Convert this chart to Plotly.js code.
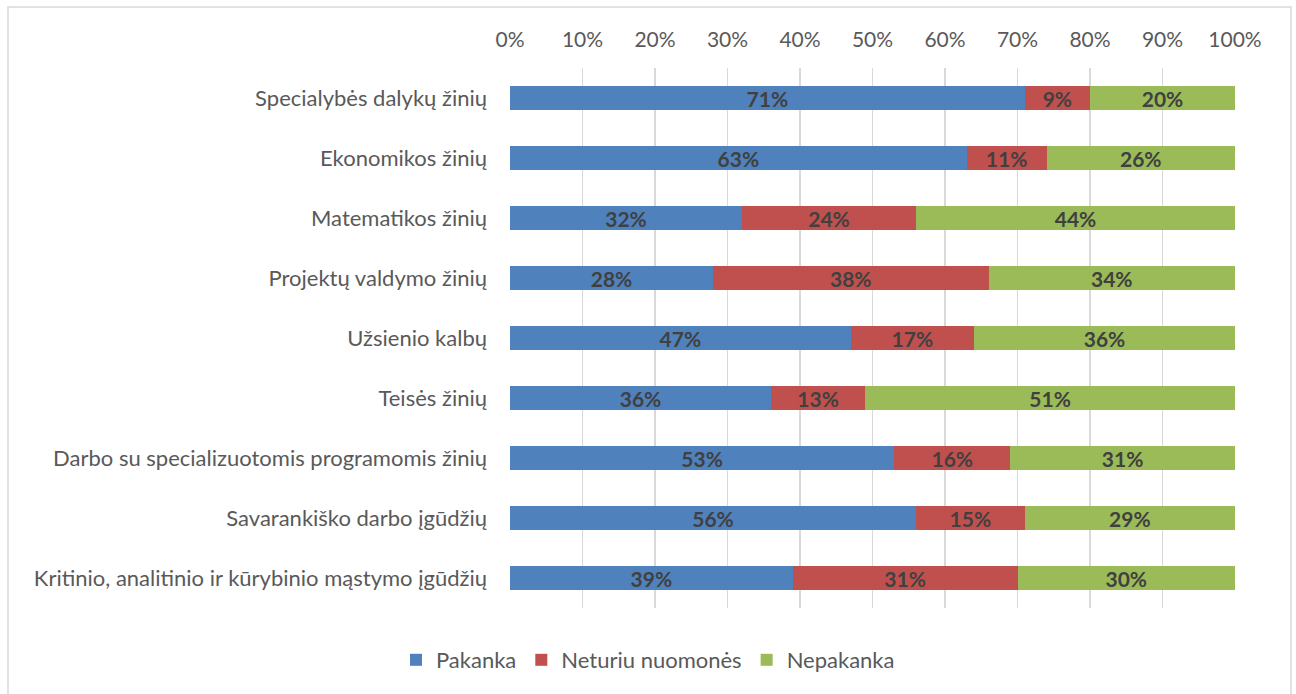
<!DOCTYPE html>
<html>
<head>
<meta charset="utf-8">
<script src="https://cdn.plot.ly/plotly-3.0.1.min.js"></script>
<style>html,body{margin:0;padding:0;background:#fff;}#chart{width:1296px;height:694px;}</style>
</head>
<body>
<div id="chart"></div>
<script>
const categories = [
  "Specialybės dalykų žinių",
  "Ekonomikos žinių",
  "Matematikos žinių",
  "Projektų valdymo žinių",
  "Užsienio kalbų",
  "Teisės žinių",
  "Darbo su specializuotomis programomis žinių",
  "Savarankiško darbo įgūdžių",
  "Kritinio, analitinio ir kūrybinio mąstymo įgūdžių"
];
const pakanka = [71, 63, 32, 28, 47, 36, 53, 56, 39];
const neturiu = [9, 11, 24, 38, 17, 13, 16, 15, 31];
const nepakanka = [20, 26, 44, 34, 36, 51, 31, 29, 30];
const seriesNames = ["Pakanka", "Neturiu nuomonės", "Nepakanka"];
const tickVals = [0, 10, 20, 30, 40, 50, 60, 70, 80, 90, 100];
const tickText = tickVals.map(v => v + "%");

const colors = ["#4F81BD", "#C0504D", "#9BBB59"];
const font = "Lato, 'Open Sans', sans-serif";

function mk(vals, i) {
  return {
    type: "bar", orientation: "h",
    y: categories, x: vals, name: seriesNames[i],
    marker: {color: colors[i], line: {width: 0}},
    text: vals.map(v => "<b>" + v + "%</b>"),
    textposition: "inside", insidetextanchor: "middle",
    constraintext: "none",
    textfont: {family: font, size: 21, color: "#404040"},
    hoverinfo: "skip"
  };
}
const data = [mk(pakanka, 0), mk(neturiu, 1), mk(nepakanka, 2)];

const L = 510, R = 61, T = 68, B = 86, W = 1296, H = 694;
const pw = W - L - R, ph = H - T - B;
const px = x => (x - L) / pw;
const py = y => (H - B - y) / ph;

const layout = {
  width: W, height: H,
  barmode: "stack", bargap: 0.6,
  margin: {l: L, r: R, t: T, b: B, pad: 0, autoexpand: false},
  paper_bgcolor: "#fff", plot_bgcolor: "#fff",
  font: {family: font, size: 21, color: "#595959"},
  uniformtext: {mode: false},
  xaxis: {
    side: "top", range: [0, 100], tickvals: tickVals, ticktext: tickText,
    showgrid: true, gridcolor: "#D9D9D9", gridwidth: 1.5, automargin: false,
    zeroline: false, showline: false, ticks: "", ticklen: 0, tickangle: 0,
    ticklabelstandoff: 16,
    tickfont: {family: font, size: 21, color: "#595959"}, fixedrange: true
  },
  yaxis: {
    autorange: "reversed", categoryorder: "array", categoryarray: categories,
    showgrid: false, zeroline: false, showline: false, ticks: "", automargin: false,
    ticklabelstandoff: 22,
    tickfont: {family: font, size: 22, color: "#595959"}, fixedrange: true
  },
  showlegend: true,
  legend: {
    orientation: "h", x: 0.5, xanchor: "center", xref: "container",
    y: 1 - 660 / H, yanchor: "middle", yref: "container",
    font: {family: font, size: 22, color: "#595959"},
    itemwidth: 30, traceorder: "normal"
  },
  shapes: [{
    type: "rect", xref: "paper", yref: "paper",
    x0: px(8), x1: px(1291), y0: py(700), y1: py(7),
    line: {color: "#D9D9D9", width: 1.5}, fillcolor: "rgba(0,0,0,0)", layer: "below"
  }]
};
Plotly.newPlot("chart", data, layout, {displayModeBar: false, staticPlot: true});
</script>
</body>
</html>
